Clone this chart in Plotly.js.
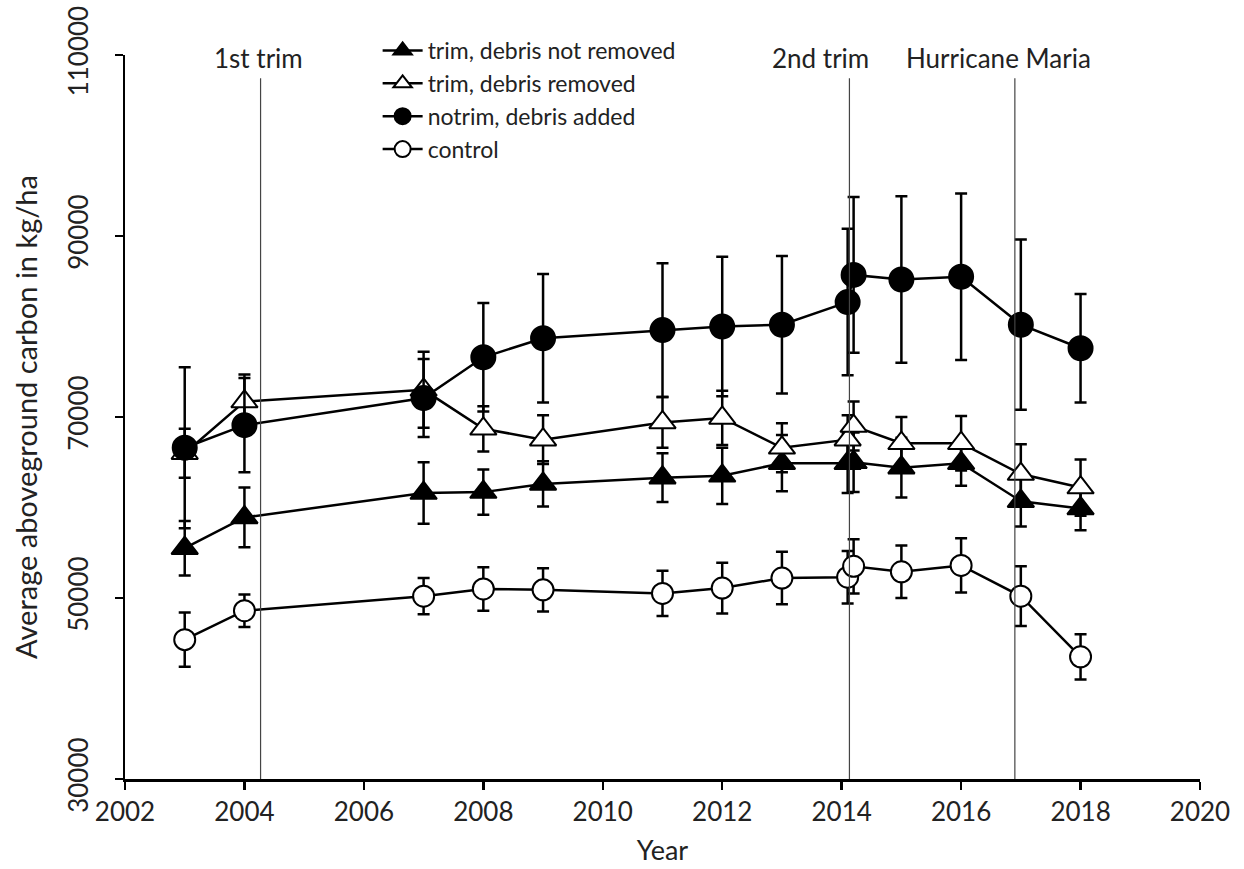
<!DOCTYPE html>
<html>
<head>
<meta charset="utf-8">
<script src="https://cdn.plot.ly/plotly-3.0.1.min.js"></script>
<style>html,body{margin:0;padding:0;background:#fff;}#chart{width:1244px;height:869px;}</style>
</head>
<body>
<div id="chart"></div>
<script>
// ---- data ----
const years = [2003, 2004, 2007, 2008, 2009, 2011, 2012, 2013, 2014.1, 2014.2, 2015, 2016, 2017, 2018];

const trimNotRemoved    = [55500, 58900, 61600, 61700, 62600, 63300, 63500, 64900, 64900, 65000, 64400, 64900, 60700, 59900];
const trimNotRemovedErr = [3000, 3300, 3400, 2500, 2500, 2700, 3100, 3100, 3300, 3300, 3300, 2500, 2800, 2400];

const trimRemoved    = [66000, 71700, 73000, 68700, 67500, 69400, 69900, 66600, 67500, 69000, 67100, 67100, 63700, 62200];
const trimRemovedErr = [2700, 3000, 4200, 2500, 2700, 2800, 3000, 2700, 2700, 2700, 2900, 3000, 3300, 3100];

const notrimAdded    = [66600, 69100, 72100, 76600, 78700, 79600, 80000, 80200, 82700, 85700, 85200, 85500, 80200, 77600];
const notrimAddedErr = [8900, 5200, 4300, 6000, 7100, 7400, 7700, 7600, 8100, 8600, 9200, 9200, 9400, 6000];

const control    = [45400, 48600, 50200, 51000, 50900, 50500, 51100, 52200, 52300, 53500, 52900, 53600, 50200, 43500];
const controlErr = [3000, 1800, 2000, 2400, 2400, 2500, 2800, 2900, 2900, 3000, 2900, 3000, 3300, 2500];

const seriesNames = ["trim, debris not removed", "trim, debris removed", "notrim, debris added", "control"];

const eventYears  = [2004.27, 2014.13, 2016.9];
const eventLabels = ["1st trim", "2nd trim", "Hurricane Maria"];
const eventLabelX = [2004.23, 2013.64, 2016.62];

// ---- chart ----
const FONT = "Lato, 'Open Sans', sans-serif";
function mk(name, y, err, symbol, fill, size) {
  return {
    type: 'scatter', mode: 'lines+markers', name: name,
    x: years, y: y,
    line: {color: '#000', width: 2.5},
    marker: {symbol: symbol, size: size, color: fill, line: {color: '#000', width: 2}},
    error_y: {type: 'data', array: err, visible: true, color: '#000', thickness: 2.5, width: 6}
  };
}
const traces = [
  mk(seriesNames[0], trimNotRemoved, trimNotRemovedErr, 'triangle-up', '#000', 23),
  mk(seriesNames[1], trimRemoved, trimRemovedErr, 'triangle-up', '#fff', 23),
  mk(seriesNames[2], notrimAdded, notrimAddedErr, 'circle', '#000', 24),
  mk(seriesNames[3], control, controlErr, 'circle', '#fff', 21)
];

const shapes = eventYears.map(x => ({
  type: 'line', xref: 'x', yref: 'paper', x0: x, x1: x, y0: 0, y1: 0.968,
  line: {color: '#444', width: 1.2}
}));
const annotations = eventLabels.map((t, i) => ({
  text: t, xref: 'x', yref: 'paper', x: eventLabelX[i], y: 0.996,
  xanchor: 'center', yanchor: 'middle', showarrow: false,
  font: {family: FONT, size: 26, color: '#222'}
}));

const layout = {
  width: 1244, height: 869,
  paper_bgcolor: '#fff', plot_bgcolor: '#fff',
  margin: {l: 125, r: 44, t: 55, b: 90},
  font: {family: FONT, color: '#000', size: 26},
  showlegend: true,
  legend: {
    x: 0.235, y: 1.036, xanchor: 'left', yanchor: 'top',
    font: {family: FONT, size: 23, color: '#222'},
    bgcolor: 'rgba(0,0,0,0)', tracegroupgap: 0, itemwidth: 40
  },
  xaxis: {
    range: [2002, 2020], tick0: 2002, dtick: 2,
    showgrid: false, zeroline: false,
    showline: true, linecolor: '#000', linewidth: 2.5,
    ticks: 'outside', ticklen: 8, tickwidth: 2.5, tickcolor: '#000',
    tickfont: {family: FONT, size: 26, color: '#222'},
    title: {text: 'Year', font: {family: FONT, size: 27, color: '#222'}, standoff: 16}
  },
  yaxis: {
    range: [30000, 110000], tick0: 30000, dtick: 20000,
    showgrid: false, zeroline: false,
    showline: true, linecolor: '#000', linewidth: 2.5,
    ticks: 'outside', ticklen: 8, tickwidth: 2.5, tickcolor: '#000',
    tickangle: -90, tickformat: 'd', ticklabelstandoff: 16,
    tickfont: {family: FONT, size: 26, color: '#222'},
    title: {text: 'Average aboveground carbon in kg/ha', font: {family: FONT, size: 29, color: '#222'}, standoff: 16}
  },
  shapes: shapes,
  annotations: annotations
};

Plotly.newPlot('chart', traces, layout, {displayModeBar: false, staticPlot: true});
</script>
</body>
</html>
